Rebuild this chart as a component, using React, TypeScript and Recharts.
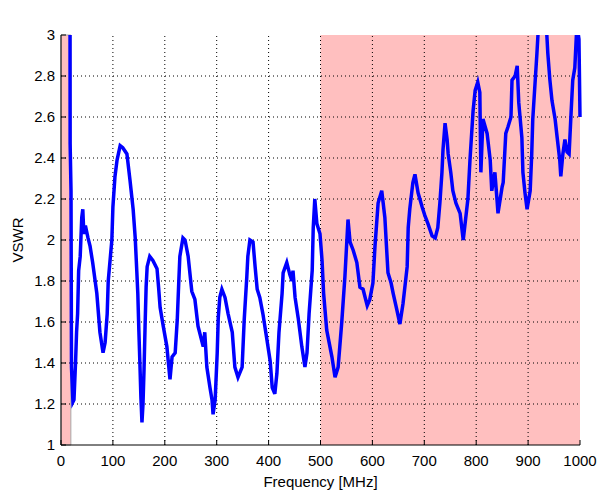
import { Label, Line, LineChart, ReferenceArea, ReferenceLine, XAxis, YAxis } from "recharts";

// measured VSWR trace
const freqMHz = [
  17.3, 17.6, 19.3, 20.2, 23, 25, 28, 30, 32, 34, 37, 40, 42, 44, 47, 52, 56, 61, 69, 75,
  81, 85, 89, 91, 98, 100, 104, 108, 114, 119, 127, 133, 139, 143, 146, 148, 150, 152, 154, 156,
  158, 160, 162, 164, 166, 171, 177, 185, 188, 191, 197, 204, 207, 210, 214, 220, 224, 227, 229, 235,
  239, 245, 252, 258, 264, 274, 277, 281, 287, 291, 293, 297, 301, 303, 306, 310, 316, 322, 330, 335,
  341, 349, 353, 358, 360, 364, 370, 374, 378, 383, 389, 397, 403, 407, 412, 416, 420, 426, 428, 435,
  441, 445, 447, 451, 457, 464, 470, 474, 478, 484, 486, 489, 493, 499, 503, 506, 512, 522, 528, 534,
  541, 547, 553, 557, 563, 570, 576, 582, 590, 595, 601, 605, 611, 618, 624, 630, 636, 640, 647, 653,
  659, 667, 669, 672, 678, 682, 688, 696, 701, 707, 715, 721, 726, 730, 734, 736, 740, 744, 746, 751,
  755, 761, 769, 775, 784, 788, 794, 798, 803, 807, 809, 813, 821, 827, 830, 836, 840, 842, 850, 852,
  857, 861, 867, 869, 875, 879, 882, 888, 890, 894, 898, 904, 907, 909, 913, 917, 919, 925, 934, 938,
  942, 946, 952, 956, 961, 963, 967, 971, 975, 979, 983, 986, 990, 994, 998, 1000,
];
const vswr = [
  3.3, 2.47, 2.24, 1.38, 1.21, 1.22, 1.4, 1.55, 1.64, 1.85, 1.92, 2.11, 2.15, 2.03, 2.07, 2.01, 1.97, 1.89, 1.74, 1.55,
  1.45, 1.5, 1.64, 1.8, 2.0, 2.16, 2.31, 2.39, 2.46, 2.45, 2.42, 2.29, 2.15, 2.01, 1.85, 1.74, 1.56, 1.4, 1.23, 1.11,
  1.2, 1.37, 1.58, 1.77, 1.87, 1.92, 1.9, 1.86, 1.77, 1.67, 1.58, 1.48, 1.4, 1.32, 1.43, 1.45, 1.61, 1.8, 1.92, 2.01,
  2.0, 1.92, 1.75, 1.71, 1.58, 1.48, 1.55, 1.38, 1.28, 1.22, 1.15, 1.22, 1.45, 1.62, 1.72, 1.76, 1.72, 1.64, 1.55, 1.38,
  1.33, 1.38, 1.61, 1.82, 1.92, 2.0, 1.99, 1.87, 1.76, 1.72, 1.64, 1.51, 1.41, 1.28, 1.25, 1.35, 1.55, 1.74, 1.84, 1.89,
  1.83, 1.8, 1.85, 1.72, 1.62, 1.48, 1.38, 1.45, 1.64, 1.85, 2.06, 2.2, 2.08, 2.03, 1.9, 1.74, 1.56, 1.43, 1.33, 1.38,
  1.6, 1.82, 2.1, 1.99, 1.95, 1.89, 1.77, 1.76, 1.68, 1.71, 1.79, 1.97, 2.18, 2.24, 2.11, 1.84, 1.79, 1.74, 1.66, 1.59,
  1.69, 1.87, 2.06, 2.15, 2.28, 2.32, 2.23, 2.16, 2.12, 2.08, 2.02, 2.01, 2.06, 2.18, 2.33, 2.44, 2.57, 2.49, 2.42, 2.33,
  2.24, 2.18, 2.13, 2.0, 2.2, 2.39, 2.63, 2.73, 2.77, 2.72, 2.33, 2.59, 2.52, 2.39, 2.24, 2.33, 2.2, 2.13, 2.26, 2.28,
  2.52, 2.55, 2.6, 2.78, 2.8, 2.85, 2.67, 2.5, 2.33, 2.23, 2.15, 2.24, 2.42, 2.59, 2.75, 2.91, 3.0, 3.1, 3.1, 2.91,
  2.78, 2.68, 2.59, 2.5, 2.39, 2.31, 2.42, 2.49, 2.43, 2.42, 2.63, 2.78, 2.84, 3.05, 2.98, 2.6,
];

const xTicks = [0, 100, 200, 300, 400, 500, 600, 700, 800, 900, 1000];
const yTicks = [1, 1.2, 1.4, 1.6, 1.8, 2, 2.2, 2.4, 2.6, 2.8, 3];
const lowBand = [0, 19];
const highBand = [500, 1000];

const data = freqMHz.map((f, i) => ({ f, v: vswr[i] }));

const FONT = '"Liberation Sans", Arial, sans-serif';
const tickFont = { fontFamily: FONT, fontSize: 15, fill: "#000" };
const fmt = (v: number) => String(Math.round(v * 10) / 10);
const dots = "1 3";

export default function App() {
  return (
    <div style={{ position: "absolute", left: 0, top: 0, width: 598, height: 491, background: "#fff" }}>
      <LineChart width={598} height={491} data={data} margin={{ top: 35, right: 18, bottom: 4, left: 21 }}>
        <ReferenceArea x1={lowBand[0]} x2={lowBand[1]} y1={1} y2={3} fill="#ffbfbf" fillOpacity={1} stroke="#a8a8a8" />
        <ReferenceArea x1={highBand[0]} x2={highBand[1]} y1={1} y2={3} fill="#ffbfbf" fillOpacity={1} stroke="none" />
        {xTicks.slice(1, -1).map((t) => (
          <ReferenceLine key={"x" + t} x={t} stroke="#000" strokeDasharray={dots} />
        ))}
        {yTicks.slice(1, -1).map((t) => (
          <ReferenceLine key={"y" + t} y={t} stroke="#000" strokeDasharray={dots} />
        ))}
        <XAxis
          type="number"
          dataKey="f"
          domain={[0, 1000]}
          ticks={xTicks}
          interval={0}
          height={42}
          tickSize={-5}
          tickMargin={15}
          tick={tickFont}
          tickLine={{ stroke: "#000" }}
          axisLine={{ stroke: "#000" }}
        >
          <Label value="Frequency [MHz]" position="insideBottom" offset={0} fontFamily={FONT} fontSize={15} fill="#000" />
        </XAxis>
        <XAxis
          xAxisId="top"
          orientation="top"
          type="number"
          dataKey="f"
          domain={[0, 1000]}
          ticks={xTicks}
          interval={0}
          height={0}
          tickSize={-5}
          tick={false}
          tickLine={{ stroke: "#000" }}
          axisLine={{ stroke: "#000" }}
        >
          <Label value="Typical Measured VSWR with Whips" position="top" offset={10} fontFamily={FONT} fontSize={15} fill="#000" />
        </XAxis>
        <YAxis
          type="number"
          domain={[1, 3]}
          allowDataOverflow
          ticks={yTicks}
          interval={0}
          width={40}
          tickSize={-5}
          tickMargin={11}
          tickFormatter={fmt}
          tick={tickFont}
          tickLine={{ stroke: "#000" }}
          axisLine={{ stroke: "#000" }}
        >
          <Label
            content={(p: any) => {
              const vb = p.viewBox || { x: 21, y: 35, height: 410 };
              const cx = vb.x - 3;
              const cy = vb.y + vb.height / 2;
              return (
                <text
                  x={cx}
                  y={cy}
                  dy="0.36em"
                  textAnchor="middle"
                  transform={`rotate(-90 ${cx} ${cy})`}
                  fontFamily={FONT}
                  fontSize={15}
                  fill="#000"
                >
                  VSWR
                </text>
              );
            }}
          />
        </YAxis>
        <YAxis
          yAxisId="right"
          orientation="right"
          type="number"
          domain={[1, 3]}
          ticks={yTicks}
          interval={0}
          width={0}
          tickSize={-5}
          tick={false}
          tickLine={{ stroke: "#000" }}
          axisLine={{ stroke: "#000" }}
        />
        <Line
          type="linear"
          dataKey="v"
          stroke="#0000ff"
          strokeWidth={3.5}
          dot={false}
          isAnimationActive={false}
        />
      </LineChart>
    </div>
  );
}
